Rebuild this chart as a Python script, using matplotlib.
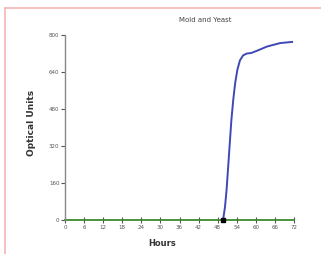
import matplotlib
matplotlib.use("Agg")
import matplotlib.pyplot as plt
from matplotlib.lines import Line2D

# readings
hours = [49.7, 50.3, 50.8, 51.3, 51.8, 52.3, 52.9, 53.5, 54.2, 55.0, 56.0,
         57.2, 58.5, 60.4, 63.5, 67.6, 71.4]
optical = [0, 56, 130, 230, 330, 430, 520, 592, 650, 690, 712,
           720, 722, 732, 750, 765, 770]
baseline_x = [0, 72]
baseline_y = [0, 0]
start_x = [49.7]
start_y = [0]
x_ticks = list(range(0, 73, 6))
y_ticks = [0, 160, 320, 480, 640, 800]

fig = plt.figure(figsize=(3.21, 2.54), dpi=100)
W, H = 321, 254
ax = fig.add_axes([65 / W, 1 - 220 / H, 229 / W, 185 / H])

ax.plot(baseline_x, baseline_y, color="#3a8a2a", lw=1.3, zorder=2, clip_on=False)
ax.plot(hours, optical, color="#4048b8", lw=1.4, zorder=3, clip_on=False)
ax.plot(start_x, start_y, "s", color="black", ms=3.5, zorder=4, clip_on=False)

ax.set_xlim(0, 72)
ax.set_ylim(0, 800)
ax.set_xticks(x_ticks)
ax.set_yticks(y_ticks)
ax.tick_params(axis="both", labelsize=4, colors="#555555", length=3, width=0.8)
ax.tick_params(axis="x", direction="inout", length=5, pad=1)
ax.tick_params(axis="y", pad=1)
for s in ("top", "right", "bottom"):
    ax.spines[s].set_visible(False)
ax.spines["left"].set_color("#888888")
ax.spines["left"].set_linewidth(1.0)
ax.set_facecolor("none")

fig.text(205 / W, 1 - 20 / H, "Mold and Yeast", ha="center", va="center",
         fontsize=5, color="#444444")
fig.text(31 / W, 1 - 123 / H, "Optical Units", rotation=90, ha="center",
         va="center", fontsize=6.5, fontweight="bold", color="#333333")
fig.text(162 / W, 1 - 244 / H, "Hours", ha="center", va="center",
         fontsize=6, fontweight="bold", color="#333333")

# pink frame around the figure
fig.add_artist(Line2D([4.5 / W, 4.5 / W], [0, 1 - 8 / H], color="#f5b5b5", lw=1.2))
fig.add_artist(Line2D([4.5 / W, 1], [1 - 8 / H, 1 - 8 / H], color="#f5b5b5", lw=1.2))

fig.savefig("out.png", dpi=100)
